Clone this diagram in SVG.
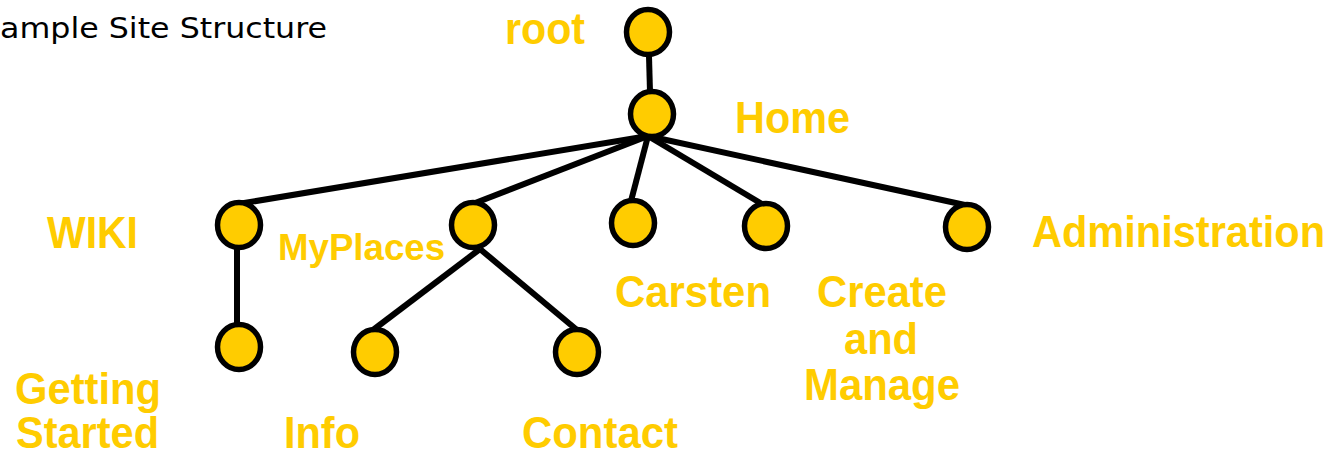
<svg xmlns="http://www.w3.org/2000/svg" width="1336" height="453" viewBox="0 0 1336 453">
<style>
.node{fill:#FFCC00;stroke:#000;stroke-width:5.5}
.edge{stroke:#000;stroke-width:6;fill:none;stroke-linecap:butt}
.lbl{font-family:"Liberation Sans",Arial,sans-serif;font-weight:bold;font-size:44px;fill:#FFCC00}
.title{font-family:"DejaVu Sans",Verdana,sans-serif;font-size:29px;fill:#000}
</style>
<rect width="1336" height="453" fill="#fff"/>
<text class="title" x="0" y="38" textLength="327" lengthAdjust="spacingAndGlyphs">ample Site Structure</text>
<g id="connectors">
<line class="edge" x1="649" y1="56" x2="650" y2="92"/>
<line class="edge" x1="648" y1="136" x2="238" y2="204"/>
<line class="edge" x1="648" y1="136" x2="470" y2="205"/>
<line class="edge" x1="648" y1="136" x2="631" y2="201"/>
<line class="edge" x1="648" y1="136" x2="762" y2="204"/>
<line class="edge" x1="648" y1="136" x2="965" y2="205"/>
<line class="edge" x1="237" y1="247" x2="237" y2="325"/>
<line class="edge" x1="480" y1="249" x2="373" y2="330"/>
<line class="edge" x1="480" y1="249" x2="577" y2="330"/>
</g>
<g id="root"><ellipse class="node" cx="648" cy="32" rx="21.5" ry="22.5"/><text class="lbl" x="505" y="44" textLength="80" lengthAdjust="spacingAndGlyphs">root</text></g>
<g id="home"><ellipse class="node" cx="652" cy="114" rx="21.5" ry="22.5"/><text class="lbl" x="735" y="133" textLength="115" lengthAdjust="spacingAndGlyphs">Home</text></g>
<g id="wiki"><ellipse class="node" cx="239" cy="225" rx="21.5" ry="22.5"/><text class="lbl" x="47" y="248" textLength="91" lengthAdjust="spacingAndGlyphs">WIKI</text></g>
<g id="myplaces"><ellipse class="node" cx="473" cy="225" rx="21.5" ry="22.5"/><text class="lbl" x="278" y="260" style="font-size:36px" textLength="167" lengthAdjust="spacingAndGlyphs">MyPlaces</text></g>
<g id="carsten"><ellipse class="node" cx="633" cy="223" rx="21.5" ry="22.5"/><text class="lbl" x="615" y="307" textLength="156" lengthAdjust="spacingAndGlyphs">Carsten</text></g>
<g id="create"><ellipse class="node" cx="766" cy="226" rx="21.5" ry="22.5"/><text class="lbl" y="307" x="817" textLength="130" lengthAdjust="spacingAndGlyphs">Create</text><text class="lbl" x="844" y="354" textLength="74" lengthAdjust="spacingAndGlyphs">and</text><text class="lbl" x="804" y="400" textLength="156" lengthAdjust="spacingAndGlyphs">Manage</text></g>
<g id="administration"><ellipse class="node" cx="967" cy="227" rx="21.5" ry="22.5"/><text class="lbl" x="1032" y="247" textLength="293" lengthAdjust="spacingAndGlyphs">Administration</text></g>
<g id="getting-started"><ellipse class="node" cx="239" cy="347" rx="21.5" ry="22.5"/><text class="lbl" x="15" y="404" textLength="146" lengthAdjust="spacingAndGlyphs">Getting</text><text class="lbl" x="16" y="448" textLength="143" lengthAdjust="spacingAndGlyphs">Started</text></g>
<g id="info"><ellipse class="node" cx="375" cy="352" rx="21.5" ry="22.5"/><text class="lbl" x="284" y="448" textLength="76" lengthAdjust="spacingAndGlyphs">Info</text></g>
<g id="contact"><ellipse class="node" cx="577" cy="352" rx="21.5" ry="22.5"/><text class="lbl" x="522" y="448" textLength="156" lengthAdjust="spacingAndGlyphs">Contact</text></g>
</svg>
